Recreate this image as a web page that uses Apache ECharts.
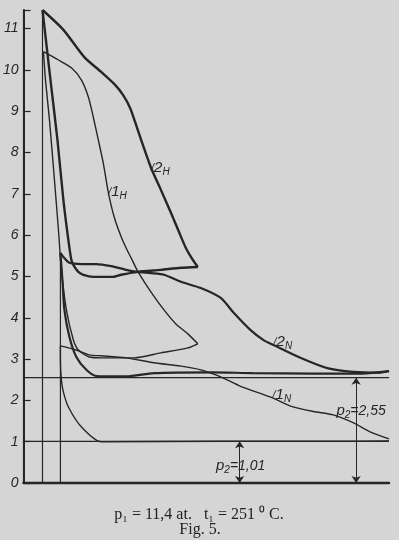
<!DOCTYPE html>
<html><head><meta charset="utf-8">
<script src="https://cdn.jsdelivr.net/npm/echarts@6/dist/echarts.min.js"></script>
<style>html,body{margin:0;padding:0;background:#d5d5d5}#c{width:399px;height:540px}</style>
</head><body><div id="c"></div>
<script>
// ---- data (volume in arbitrary units 0..367, pressure in at) ----
const volumeMax = 367;
const pressureMax = 11.45;            // p1 = 11,4 at (top of frame)
const pressureTicks = [0,1,2,3,4,5,6,7,8,9,10,11];
const p2High = 2.55;                  // Niederdruck exhaust ref line
const p2Low = 1.01;                   // condenser ref line
const hCylinderLineX = 19;            // H-diagram start line
const nCylinderLineX = 37;            // N-diagram start line
const nPeakPressure = 5.57;
const arrowHighX = 334;
const arrowLowX = 217;

// High-pressure cylinder, load 2 (thick)
const h2Top = [[19,11.45],[40,10.97],[61,10.31],[78,9.95],[91,9.66],[100,9.39],[107,9.08],[112,8.74],[118,8.31],[128,7.63],[138,7.09],[148,6.54],[156,6.08],[163,5.69],[170,5.40],[175,5.23]];
const h2Bottom = [[175,5.23],[158,5.21],[138,5.16],[115,5.11],[98,5.04],[90,4.99],[70,4.99],[60,5.04],[55,5.11],[50,5.28],[48,5.40],[45,5.88],[40,6.85],[34,8.31],[27,9.76],[19,11.45]];
// Low-pressure cylinder, load 2 (thick)
const n2Top = [[37,5.57],[40,5.47],[46,5.33],[58,5.30],[73,5.30],[88,5.25],[103,5.16],[115,5.11],[128,5.08],[141,5.04],[158,4.87],[178,4.72],[198,4.48],[211,4.12],[228,3.70],[241,3.46],[251,3.34],[278,3.03],[305,2.78],[331,2.69],[358,2.67],[367,2.71]];
const n2Bottom = [[367,2.71],[340,2.65],[290,2.65],[230,2.66],[188,2.68],[131,2.66],[103,2.58],[73,2.59],[63,2.74],[53,3.05],[46,3.54],[41,4.19],[39,4.92],[37,5.57]];
// High-pressure cylinder, load 1 (thin)
const h1Top = [[20,10.44],[35,10.24],[48,10.05],[58,9.76],[65,9.35],[70,8.86],[75,8.31],[80,7.75],[85,7.05],[91,6.44],[98,5.96],[103,5.69],[109,5.40],[115,5.11],[128,4.62],[141,4.19],[153,3.85],[165,3.61],[175,3.37]];
const h1Bottom = [[175,3.37],[165,3.27],[138,3.15],[111,3.03],[98,3.03],[78,3.03],[66,3.05],[55,3.22],[50,3.46],[43,4.19],[38,5.16],[35,6.13],[31,7.34],[26,8.79],[22,9.76],[20,10.44]];
// Low-pressure cylinder, load 1 (thin)
const n1Top = [[37,3.32],[53,3.22],[66,3.10],[78,3.08],[103,3.03],[131,2.91],[158,2.83],[178,2.74],[198,2.57],[218,2.34],[250,2.06],[268,1.86],[291,1.73],[311,1.65],[331,1.46],[348,1.24],[367,1.07]];
const n1Bottom = [[367,1.02],[300,1.01],[200,1.01],[78,1.00],[58,1.36],[45,1.84],[40,2.20],[38,2.49],[37,3.00],[37,3.32]];

const curveLabels = [
  {curve: 'h2Top', index: 9, num: '2', sub: 'H'},
  {curve: 'h1Top', index: 8, num: '1', sub: 'H'},
  {curve: 'n2Top', index: 16, num: '2', sub: 'N'},
  {curve: 'n1Top', index: 10, num: '1', sub: 'N'}
];
const refLabels = [
  {text: '2,55', at: [339, 1.74]},
  {text: '1,01', at: [218, 0.41]}
];
const captionLine1 = 'p\u2081 = 11,4 at.   t\u2081 = 251 \u2070 C.';
const captionLine2 = 'Fig. 5.';

// ---- chart ----
const INK = '#262626';
const SANS = 'Liberation Sans';
const curves = {h2Top, h1Top, n2Top, n1Top};
const chart = echarts.init(document.getElementById('c'), null, {renderer: 'canvas'});

function line(data, width, smooth) {
  return {type: 'line', data, symbol: 'none', smooth: smooth === undefined ? 0.25 : smooth,
    lineStyle: {color: INK, width}, silent: true, animation: false, z: 3};
}
const richCurve = {
  t: {fontSize: 11, fontStyle: 'italic', fontFamily: SANS, color: INK},
  n: {fontSize: 15, fontStyle: 'italic', fontFamily: SANS, color: INK, lineHeight: 16},
  s: {fontSize: 10, fontStyle: 'italic', fontFamily: SANS, color: INK, lineHeight: 10, padding: [8, 0, 0, 0]}
};

const series = [
  line(h2Top, 2.4), line(h2Bottom, 2.4),
  line(n2Top, 2.2), line(n2Bottom, 2.2),
  line(h1Top, 1.4), line(h1Bottom, 1.4),
  line(n1Top, 1.4), line(n1Bottom, 1.4),
  line([[hCylinderLineX, 0], [hCylinderLineX, pressureMax]], 1.2, false),
  line([[nCylinderLineX, 0], [nCylinderLineX, nPeakPressure]], 1.2, false),
  line([[0, p2High], [volumeMax, p2High]], 1.2, false),
  Object.assign(line([[0, p2Low], [volumeMax, p2Low]], 1.2, false), {
    markLine: {
      silent: true, animation: false, symbol: ['arrow', 'arrow'], symbolSize: 7,
      lineStyle: {color: INK, width: 1, type: 'solid'}, label: {show: false},
      data: [
        [{coord: [arrowHighX, 0]}, {coord: [arrowHighX, p2High]}],
        [{coord: [arrowLowX, 0]}, {coord: [arrowLowX, p2Low]}]
      ]
    },
    markPoint: {
      silent: true, animation: false, symbol: 'circle', symbolSize: 0,
      data: refLabels.map(r => ({coord: r.at, label: {show: true, position: 'inside',
        formatter: '{p|p}{s|2}{n|=' + r.text + '}', rich: {
          p: {fontSize: 15, fontStyle: 'italic', fontFamily: SANS, color: INK, lineHeight: 16},
          s: {fontSize: 10, fontStyle: 'italic', fontFamily: SANS, color: INK, lineHeight: 10, padding: [9, 0, 0, 0]},
          n: {fontSize: 14, fontStyle: 'italic', fontFamily: SANS, color: INK, lineHeight: 16}
        }}}))
    }
  }),
  {type: 'line', data: [], silent: true, animation: false,
    markPoint: {silent: true, animation: false, symbol: 'circle', symbolSize: 0,
      data: curveLabels.map(c => ({coord: curves[c.curve][c.index], label: {show: true, position: 'right', distance: 0,
        offset: [0, c.sub === 'N' ? -3 : 0],
        formatter: '{t|/}{n|' + c.num + '}{s|' + c.sub + '}', rich: richCurve}}))}}
];

chart.setOption({
  backgroundColor: '#d5d5d5',
  animation: false,
  grid: {left: 22, right: 10, top: 10, bottom: 57},
  xAxis: [
    {type: 'value', min: 0, max: volumeMax, position: 'bottom',
      axisLine: {show: true, onZero: false, lineStyle: {color: INK, width: 2}},
      axisTick: {show: false}, axisLabel: {show: false}, splitLine: {show: false}},
    {type: 'value', min: 0, max: volumeMax, position: 'top',
      axisLine: {show: true, lineStyle: {color: INK, width: 2.4}},
      axisTick: {show: false}, axisLabel: {show: false}, splitLine: {show: false}}
  ],
  yAxis: [
    {type: 'value', min: 0, max: pressureMax, interval: 1, position: 'left',
      axisLine: {show: true, onZero: false, lineStyle: {color: INK, width: 2}},
      axisTick: {show: true, inside: true, length: 7, lineStyle: {color: INK, width: 1.2}},
      axisLabel: {show: true, margin: 5, fontSize: 14, fontStyle: 'italic', fontFamily: SANS, color: INK,
        formatter: v => pressureTicks.includes(v) ? String(v) : ''},
      splitLine: {show: false}},
    {type: 'value', min: 0, max: pressureMax, position: 'right',
      axisLine: {show: true, lineStyle: {color: INK, width: 1.2}},
      axisTick: {show: false}, axisLabel: {show: false}, splitLine: {show: false}}
  ],
  series,
  graphic: [
    {type: 'text', x: 199, y: 515, silent: true, style: {text: captionLine1, fontSize: 16, fontFamily: 'Liberation Serif', fill: '#222', align: 'center', verticalAlign: 'middle'}},
    {type: 'text', x: 200, y: 530, silent: true, style: {text: captionLine2, fontSize: 16, fontFamily: 'Liberation Serif', fill: '#222', align: 'center', verticalAlign: 'middle'}}
  ]
});
</script>
</body></html>
